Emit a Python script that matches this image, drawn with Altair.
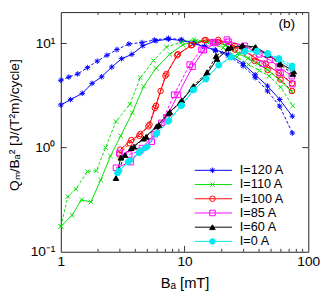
import altair as alt
import pandas as pd

# ---- data (B in mT, Q/B^2 in J/(T^2 m)/cycle) ----
currents = ["I=120 A", "I=110 A", "I=100 A", "I=85 A", "I=60 A", "I=0 A"]

b120_s = [1, 1.2, 1.49, 1.79, 2.14, 2.58, 3.1, 3.75, 4.6, 5.88, 7.4, 9.4, 11.9, 14.5, 17.7, 22.6, 29.7, 37.2, 46.8, 58.7, 74.3]
q120_s = [2.57, 2.89, 3.32, 4.14, 4.79, 5.94, 7.14, 7.86, 9.5, 10.6, 11.0, 10.7, 10.0, 9.3, 8.7, 7.9, 6.4, 5.0, 3.9, 2.9, 2.0]
b120_d = [1, 1.16, 1.37, 1.64, 1.97, 2.36, 2.84, 3.55, 4.53, 5.7, 7.4, 9.4, 11.9, 14.5, 17.7, 22.6, 29.7, 37.2, 46.8, 58.7, 74.3]
q120_d = [4.43, 4.76, 5.1, 5.86, 6.77, 7.7, 8.74, 9.89, 10.2, 10.8, 11.2, 10.9, 10.2, 9.4, 8.5, 7.6, 6.1, 4.7, 3.5, 2.5, 1.38]

b110_s = [1, 1.23, 1.47, 1.75, 2.1, 2.52, 3.05, 3.78, 4.67, 5.88, 7.59, 9.67, 12.3, 16.2, 21.2, 27, 32.5, 39, 46.9, 57.7, 73.6]
q110_s = [0.175, 0.224, 0.316, 0.30, 0.489, 0.83, 1.3, 2.16, 3.87, 5.77, 7.88, 9.7, 10.5, 10.5, 9.7, 8.04, 7.2, 6.4, 5.57, 4.53, 3.44]
b110_d = [1, 1.14, 1.32, 1.64, 1.94, 2.3, 2.79, 3.62, 4.39, 5.61, 7.14, 9.55, 11.9, 15.3, 20.5, 26.5, 33, 40.2, 48.3, 59.6, 74.9]
q110_d = [0.175, 0.339, 0.40, 0.589, 0.60, 1.0, 1.78, 2.61, 4.69, 6.86, 9.24, 10.4, 10.9, 10.3, 9.1, 7.4, 6.27, 5.5, 4.86, 3.81, 2.52]

b100_s = [3.02, 3.71, 4.39, 5.21, 5.88, 6.4, 7.14, 8.83, 11.5, 14.8, 18.7, 25.5, 30.6, 36.7, 45.4, 57.6, 73.8]
q100_s = [0.955, 1.18, 1.35, 1.66, 2.52, 3.5, 5.1, 7.88, 9.7, 10.8, 10.8, 9.5, 8.38, 7.36, 6.4, 5.2, 4.14]
b100_d = [2.96, 3.6, 4.3, 5.1, 5.75, 7.0, 8.7, 11.3, 14.5, 18.7, 25.5, 36.7, 46.9, 59.6, 73.8]
q100_d = [0.86, 1.1, 1.3, 1.6, 2.4, 4.9, 7.7, 9.6, 10.7, 10.3, 8.73, 6.8, 5.57, 4.5, 3.5]

b85_s = [2.79, 3.66, 4.53, 5.74, 7.14, 8.83, 11.6, 14.3, 17.7, 22.7, 30.6, 40.2, 49, 57.6, 73.6]
q85_s = [0.64, 0.725, 0.99, 1.35, 1.96, 3.21, 5.98, 8.61, 10.1, 10.4, 9.5, 7.87, 6.95, 6.0, 4.85]
b85_d = [2.98, 3.57, 4.37, 5.43, 6.5, 8.24, 11.0, 13.7, 17.1, 22.0, 30.6, 42.6, 59.6, 74.5]
q85_d = [0.89, 0.86, 0.93, 1.14, 1.73, 3.22, 6.27, 8.73, 10.3, 10.9, 8.73, 6.4, 5.2, 4.08]

b60_s = [2.79, 3.05, 3.71, 4.67, 5.95, 7.4, 9.2, 11.4, 14.8, 18.3, 23.7, 29.6, 37.5, 46.9, 59, 76.3]
q60_s = [0.51, 0.80, 0.99, 1.22, 1.6, 2.13, 2.7, 3.66, 4.89, 7.1, 9.17, 9.55, 9.24, 7.88, 6.5, 5.39]
b60_d = [2.95, 3.3, 3.9, 4.9, 6.2, 7.6, 9.5, 11.8, 15.2, 18.0, 22.5, 29, 37, 47, 59, 75]
q60_d = [0.62, 0.85, 1.02, 1.27, 1.65, 2.2, 2.85, 3.9, 5.3, 7.6, 9.0, 9.4, 9.1, 7.8, 6.3, 5.1]

b0_s = [2.87, 3.49, 4.27, 4.81, 5.88, 7.36, 9.37, 11.7, 14.8, 18.8, 23.7, 30.6, 38.2, 46.9, 57.6, 73.6]
q0_s = [0.569, 0.725, 0.89, 0.99, 1.35, 1.78, 2.52, 3.56, 4.53, 6.18, 7.36, 8.33, 8.3, 7.88, 7.03, 5.77]
b0_d = [2.95, 3.6, 4.4, 5.0, 6.0, 7.5, 9.5, 11.9, 15, 19, 24, 31, 38.5, 47, 58, 74]
q0_d = [0.6, 0.75, 0.93, 1.02, 1.38, 1.82, 2.55, 3.6, 4.6, 6.2, 7.4, 8.5, 8.5, 8.1, 7.2, 6.1]

x_minor = [2, 3, 4, 5, 6, 7, 8, 9, 20, 30, 40, 50, 60, 70, 80, 90]
x_major = [10]
y_major = [1, 10]

# ---- styles ----
STAR = "M0,-1V1M-1,0H1M-0.7,-0.7L0.7,0.7M-0.7,0.7L0.7,-0.7"
XSH = "M-0.8,-0.8L0.8,0.8M-0.8,0.8L0.8,-0.8"
style = {
    "I=120 A": ("#0000ff", "#0000ff", STAR),
    "I=110 A": ("#00e000", "transparent", XSH),
    "I=100 A": ("#ff0000", "transparent", "circle"),
    "I=85 A": ("#ff00ff", "transparent", "square"),
    "I=60 A": ("#000000", "#000000", "triangle-up"),
    "I=0 A": ("#00e8f0", "#00e8f0", "circle"),
}

series = [
    ("I=120 A", b120_s, q120_s, b120_d, q120_d),
    ("I=110 A", b110_s, q110_s, b110_d, q110_d),
    ("I=100 A", b100_s, q100_s, b100_d, q100_d),
    ("I=85 A", b85_s, q85_s, b85_d, q85_d),
    ("I=60 A", b60_s, q60_s, b60_d, q60_d),
    ("I=0 A", b0_s, q0_s, b0_d, q0_d),
]

rows = []
for name, bs, qs, bd, qd in series:
    col, fil, shp = style[name]
    for kind, bb, qq in (("dashed", bd, qd), ("solid", bs, qs)):
        for i, (b, q) in enumerate(zip(bb, qq)):
            rows.append(dict(cur=name, kind=kind, key=name + kind, i=i, B=b, Q=q,
                             col=col, fil=fil, shp=shp))
df = pd.DataFrame(rows)

W, H = 253, 245
FONT = "Liberation Sans"
MSIZE = 32

xs = alt.Scale(type="log", domain=[1, 100], nice=False)
ys = alt.Scale(type="log", domain=[0.1, 20], nice=False)
xaxis = alt.Axis(values=[1, 10, 100], format="d", title="Bₐ [mT]", labelFlush=False,
                 labelPadding=3, titleY=32, titleBaseline="middle", titleFontSize=15)
yaxis = alt.Axis(values=[0.1, 1, 10], title="Qₘ/Bₐ² [J/(T²m)/cycle]",
                 labelExpr="datum.value >= 5 ? '10¹' : datum.value >= 0.5 ? '10⁰' : '10⁻¹'",
                 labelPadding=6, titleX=-47, titleY=115, titleBaseline="middle")

X = alt.X("B:Q", scale=xs, axis=xaxis)
Y = alt.Y("Q:Q", scale=ys, axis=yaxis)

base = alt.Chart(df)
lines_solid = base.transform_filter("datum.kind == 'solid'").mark_line(strokeWidth=1).encode(
    x=X, y=Y, color=alt.Color("col:N", scale=None), detail="key:N", order="i:Q")
lines_dash = base.transform_filter("datum.kind == 'dashed'").mark_line(strokeWidth=1, strokeDash=[3, 2]).encode(
    x=X, y=Y, color=alt.Color("col:N", scale=None), detail="key:N", order="i:Q")
points = base.mark_point(filled=True, size=MSIZE, strokeWidth=1, opacity=1).encode(
    x=X, y=Y,
    stroke=alt.Stroke("col:N", scale=None),
    fill=alt.Fill("fil:N", scale=None),
    shape=alt.Shape("shp:N", scale=None))

# inward ticks
xt_minor = pd.DataFrame({"v": x_minor})
xt_major = pd.DataFrame({"v": x_major})
yt_major = pd.DataFrame({"v": y_major})
tick_col = "#333333"
XT = alt.X("v:Q", scale=xs, axis=xaxis)
YT = alt.Y("v:Q", scale=ys, axis=yaxis)
ticks = [
    alt.Chart(xt_minor).mark_rule(color=tick_col).encode(x=XT, y=alt.value(H), y2=alt.value(H - 3)),
    alt.Chart(xt_minor).mark_rule(color=tick_col).encode(x=XT, y=alt.value(0), y2=alt.value(3)),
    alt.Chart(xt_major).mark_rule(color=tick_col).encode(x=XT, y=alt.value(H), y2=alt.value(H - 6)),
    alt.Chart(xt_major).mark_rule(color=tick_col).encode(x=XT, y=alt.value(0), y2=alt.value(6)),
    alt.Chart(yt_major).mark_rule(color=tick_col).encode(y=YT, x=alt.value(0), x2=alt.value(6)),
    alt.Chart(yt_major).mark_rule(color=tick_col).encode(y=YT, x=alt.value(W - 6), x2=alt.value(W)),
]

main = alt.layer(*ticks, lines_dash, lines_solid, points)

# legend
leg = pd.DataFrame({
    "label": currents,
    "k": list(range(len(currents))),
    "col": [style[c][0] for c in currents],
    "fil": [style[c][1] for c in currents],
    "shp": [style[c][2] for c in currents],
})
ls = alt.Scale(domain=[-11.13, 5.73], reverse=True, zero=False, nice=False)
LY = alt.Y("k:Q", scale=ls, axis=None)
lb = alt.Chart(leg)
leg_line = lb.mark_rule(strokeWidth=1).encode(
    x=alt.value(137), x2=alt.value(175), y=LY, color=alt.Color("col:N", scale=None))
leg_pt = lb.mark_point(filled=True, size=MSIZE, strokeWidth=1, opacity=1).encode(
    x=alt.value(155), y=LY,
    stroke=alt.Stroke("col:N", scale=None),
    fill=alt.Fill("fil:N", scale=None),
    shape=alt.Shape("shp:N", scale=None))
leg_txt = lb.mark_text(align="left", baseline="middle", font=FONT, fontSize=13, color="black").encode(
    x=alt.value(183), y=LY, text="label:N")
tag = alt.Chart(pd.DataFrame({"t": ["(b)"]})).mark_text(
    font=FONT, fontSize=14, color="black").encode(
    text="t:N", x=alt.value(231), y=alt.value(12))

legend_layer = alt.layer(leg_line, leg_pt, leg_txt, tag)

chart = alt.layer(main, legend_layer).resolve_scale(y="independent").properties(
    width=W, height=H,
    autosize=alt.AutoSizeParams(type="none"),
    padding={"left": 54, "top": 1, "right": 14, "bottom": 42},
).configure_view(stroke="#222222", strokeWidth=1).configure_axis(
    grid=False, domain=False, ticks=False,
    labelFont=FONT, titleFont=FONT, labelFontSize=14, titleFontSize=14,
    labelColor="black", titleColor="black", titleFontWeight="normal",
)

chart.save("out.html", embed_options={"renderer": "svg", "actions": False})
